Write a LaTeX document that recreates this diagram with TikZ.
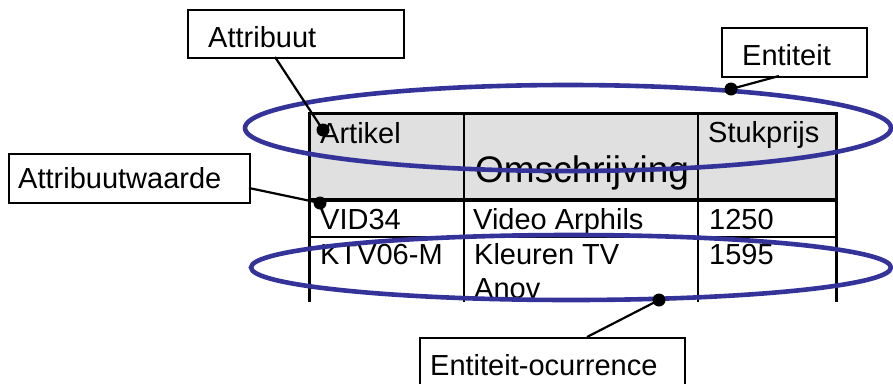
\documentclass[tikz,border=0pt]{standalone}
\usepackage{fontspec}
\setmainfont{Liberation Sans}
\usetikzlibrary{shapes.geometric}
\definecolor{ovalblue}{RGB}{51,51,153}
\definecolor{headgray}{RGB}{224,224,224}

\begin{document}
\begin{tikzpicture}[x=1pt,y=-1pt,
  labelbox/.style={draw, line width=1.6pt, inner sep=0pt, anchor=north west},
  txt/.style={inner sep=0pt, anchor=base west, font=\fontsize{29}{34}\selectfont},
  bigtxt/.style={inner sep=0pt, anchor=base west, font=\fontsize{37}{44}\selectfont},
  oval/.style={draw=ovalblue, line width=4.6pt, ellipse, inner sep=0pt},
  pin/.style={fill=black, circle, inner sep=0pt, minimum size=13pt},
  lead/.style={line width=2.2pt},
  outer/.style={line width=3pt},
  inner/.style={line width=2.2pt}]
\useasboundingbox (0,0) rectangle (893,383);

% table: grey header band
\fill[headgray] (309,113) rectangle (836,200);

% table body, cut off below the second row
\begin{scope}
  \clip (300,100) rectangle (845,302);
  \node[txt] (hArt)  at (320,143) {Artikel};
  \node[bigtxt] (hOms) at (475,182) {Omschrijving};
  \node[txt] (hPrs)  at (708,142) {Stukprijs};
  \node[txt] (r1a) at (320,229) {VID34};
  \node[txt] (r1b) at (473,229) {Video Arphils};
  \node[txt] (r1c) at (709,229) {1250};
  \node[txt] (r2a) at (320,264) {KTV06-M};
  \node[txt] (r2b) at (474,264) {Kleuren TV};
  \node[txt] (r2d) at (474,298) {Anov};
  \node[txt] (r2c) at (709,264) {1595};
  \draw[inner] (464,113) -- (464,302);
  \draw[inner] (698,113) -- (698,302);
  \draw[inner] (309,237) -- (836,237);
  \draw[outer] (309,302) -- (309,113) -- (836,113) -- (836,302);
  \draw[line width=4pt] (309,200) -- (836,200);
\end{scope}

% entity and occurrence ovals
\node[oval, minimum width=646pt, minimum height=86pt] (entoval) at (568,128) {};
\node[oval, minimum width=640pt, minimum height=65pt] (occoval) at (571,267.5) {};

% label boxes
\node[labelbox, minimum width=216pt, minimum height=48pt] (attrbox) at (187,9) {};
\node[txt] (attrtxt) at (208,47) {Attribuut};
\node[labelbox, minimum width=145pt, minimum height=49pt] (entbox) at (721,27) {};
\node[txt] (enttxt) at (742,65) {Entiteit};
\node[labelbox, minimum width=241pt, minimum height=49pt] (valbox) at (8,153) {};
\node[txt] (valtxt) at (18,188) {Attribuutwaarde};
\node[labelbox, minimum width=265pt, minimum height=56pt] (occbox) at (419,337) {};
\node[txt] (occtxt) at (430,375) {Entiteit-ocurrence};

% pointer dots
\node[pin] (pAttr) at (323,130) {};
\node[pin] (pVal)  at (320,203) {};
\node[pin] (pEnt)  at (731,89) {};
\node[pin] (pOcc)  at (659,300) {};

% leader ends on the boxes
\coordinate (aAttr) at (275,57);
\coordinate (aVal)  at (249,188);
\coordinate (aEnt)  at (779,76);
\coordinate (aOcc)  at (587,337);

\draw[lead] (aAttr) -- (pAttr.center);
\draw[lead] (aVal)  -- (pVal.center);
\draw[lead] (aEnt)  -- (pEnt.center);
\draw[lead] (aOcc)  -- (pOcc.center);
\end{tikzpicture}
\end{document}
